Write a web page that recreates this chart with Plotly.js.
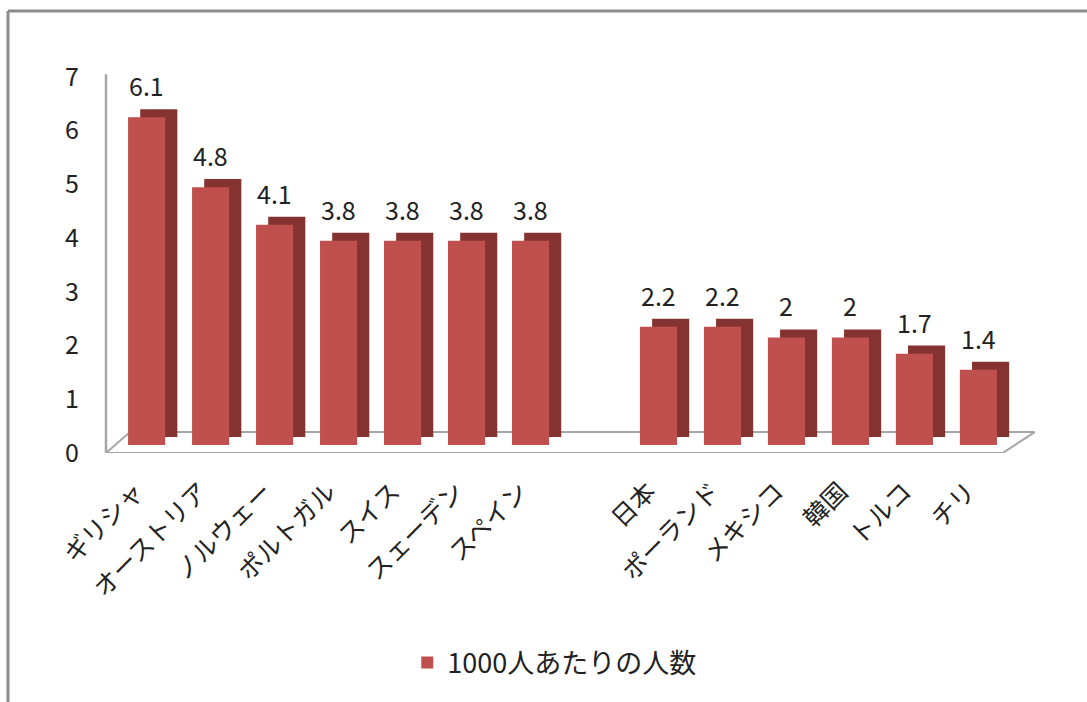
<!DOCTYPE html>
<html>
<head>
<meta charset="utf-8">
<script src="https://cdn.plot.ly/plotly-3.0.1.min.js"></script>
<style>
  html, body { margin: 0; padding: 0; background: #fff; }
  #chart { width: 1087px; height: 702px; }
</style>
</head>
<body>
<div id="chart"></div>
<script>
// ---- data ----
const categories = ["ギリシャ", "オーストリア", "ノルウェー", "ポルトガル", "スイス", "スェーデン", "スペイン", " ", "日本", "ポーランド", "メキシコ", "韓国", "トルコ", "チリ"];
const values = [6.1, 4.8, 4.1, 3.8, 3.8, 3.8, 3.8, null, 2.2, 2.2, 2, 2, 1.7, 1.4];
const valueLabels = ["6.1", "4.8", "4.1", "3.8", "3.8", "3.8", "3.8", "", "2.2", "2.2", "2", "2", "1.7", "1.4"];
const yTickValues = [0, 1, 2, 3, 4, 5, 6, 7];
const seriesName = "1000人あたりの人数";

// ---- style ----
const FONT = '"Noto Sans CJK JP", "Noto Sans", sans-serif';
const frontColor = '#C0504D';
const sideColor = '#853330';
const barWidth = 0.58;
const depthX = 0.19;   // horizontal depth of the 3D extrusion (category units)
const depthY = 0.15;   // vertical depth of the 3D extrusion (value units)

const sideTrace = {
  type: 'bar',
  x: categories,
  y: values,
  base: values.map(() => depthY),
  width: values.map(() => barWidth),
  offset: values.map(() => -barWidth / 2 + depthX),
  marker: { color: sideColor, line: { width: 0 } },
  showlegend: false,
  hoverinfo: 'skip'
};

const frontTrace = {
  type: 'bar',
  name: seriesName,
  x: categories,
  y: values,
  width: values.map(() => barWidth),
  offset: values.map(() => -barWidth / 2),
  marker: { color: frontColor, line: { width: 0 } }
};

const annotations = categories.map((c, i) => values[i] == null ? null : ({
  x: c, y: values[i] + depthY, xref: 'x', yref: 'y',
  text: valueLabels[i], showarrow: false,
  yanchor: 'bottom', yshift: 4,
  font: { family: FONT, size: 25, color: '#222' }
})).filter(a => a);

const floorColor = '#a6a6a6';
const floorFront = -0.15;
const floorBack = 0.24;
const shapes = [
  // floor (3D base) outline
  { type: 'line', layer: 'below', xref: 'x', yref: 'y', x0: -0.635, y0: floorFront, x1: 13.38, y1: floorFront, line: { color: floorColor, width: 2 } },
  { type: 'line', layer: 'below', xref: 'x', yref: 'y', x0: -0.635, y0: floorFront, x1: -0.26, y1: floorBack, line: { color: floorColor, width: 2 } },
  { type: 'line', layer: 'below', xref: 'x', yref: 'y', x0: -0.26, y0: floorBack, x1: 13.88, y1: floorBack, line: { color: floorColor, width: 2 } },
  { type: 'line', layer: 'below', xref: 'x', yref: 'y', x0: 13.88, y0: floorBack, x1: 13.38, y1: floorFront, line: { color: floorColor, width: 2 } },
  // value axis line
  { type: 'line', layer: 'below', xref: 'paper', yref: 'y', x0: 0, y0: floorFront, x1: 0, y1: 6.9, line: { color: floorColor, width: 2.5 } },
  // outer chart frame (top and left edges)
  { type: 'line', xref: 'paper', yref: 'paper', x0: -0.1054, y0: 1.151, x1: 1.06, y1: 1.151, line: { color: '#8c8c8c', width: 3 }, layer: 'above' },
  { type: 'line', xref: 'paper', yref: 'paper', x0: -0.1054, y0: 1.151, x1: -0.1054, y1: -0.7, line: { color: '#8c8c8c', width: 3 }, layer: 'above' }
];

const layout = {
  width: 1087, height: 702,
  margin: { l: 106, r: 51, t: 69, b: 249 },
  paper_bgcolor: '#fff', plot_bgcolor: 'rgba(0,0,0,0)',
  barmode: 'overlay',
  showlegend: true,
  font: { family: FONT, color: '#222' },
  xaxis: {
    type: 'category',
    range: [-0.635, 13.9],
    tickangle: -45,
    ticks: '',
    showline: false, showgrid: false, zeroline: false,
    tickfont: { family: FONT, size: 25, color: '#222' },
    ticklabelstandoff: 18,
    ticklabelshift: -10,
    fixedrange: true
  },
  yaxis: {
    range: [floorFront, 7],
    tickvals: yTickValues,
    ticktext: yTickValues.map(String),
    showline: false,
    showgrid: false, zeroline: false,
    ticks: '',
    ticklabelstandoff: 26,
    ticklabelshift: 8,
    tickfont: { family: FONT, size: 25, color: '#222' },
    fixedrange: true
  },
  legend: {
    orientation: 'h',
    x: 0.482, xanchor: 'center',
    y: -0.547, yanchor: 'middle',
    font: { family: FONT, size: 27, color: '#222' },
    bgcolor: 'rgba(0,0,0,0)'
  },
  shapes: shapes,
  annotations: annotations
};

Plotly.newPlot('chart', [sideTrace, frontTrace], layout, { displayModeBar: false, staticPlot: true });
</script>
</body>
</html>
